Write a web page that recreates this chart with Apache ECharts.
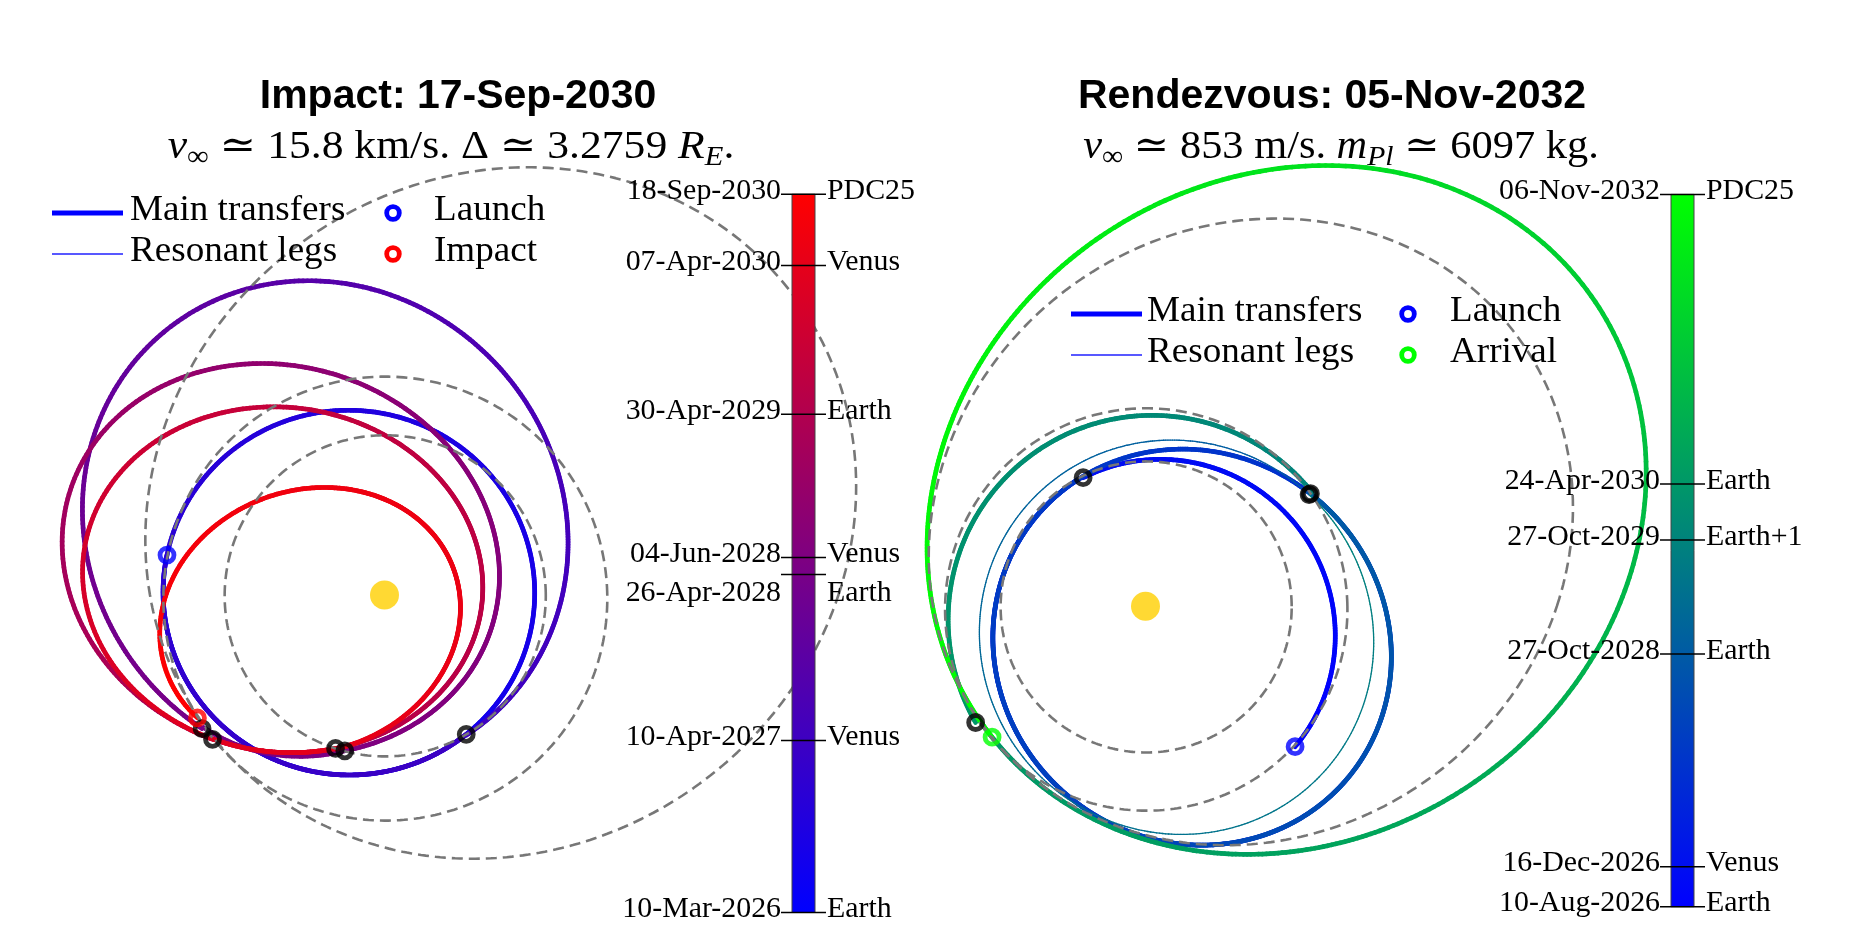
<!DOCTYPE html>
<html>
<head>
<meta charset="utf-8">
<script src="https://cdn.jsdelivr.net/npm/echarts@6/dist/echarts.min.js"></script>
<style>
html,body{margin:0;padding:0;background:#ffffff;}
#chart{width:1867px;height:931px;}
</style>
</head>
<body>
<div id="chart"></div>
<script>
// ================= DATA =================
// Colour-bar events (date label, body) for each mission
const impactDates  = ['10-Mar-2026','10-Apr-2027','26-Apr-2028','04-Jun-2028','30-Apr-2029','07-Apr-2030','18-Sep-2030'];
const impactBodies = ['Earth','Venus','Earth','Venus','Earth','Venus','PDC25'];
const rdvDates  = ['10-Aug-2026','16-Dec-2026','27-Oct-2028','27-Oct-2029','24-Apr-2030','06-Nov-2032'];
const rdvBodies = ['Earth','Venus','Earth','Earth+1','Earth','PDC25'];

// Transfer legs between consecutive events: heliocentric conics
// a = semi-major axis [AU], e = eccentricity, w = longitude of perihelion [deg],
// th0/th1 = heliocentric longitude at leg start / end [deg, unwrapped for multi-revolution legs]
const impactLegA   = [0.837, 1.137, 0.742, 0.998, 0.904, 0.687];
const impactLegE   = [0.192, 0.360, 0.474, 0.495, 0.513, 0.516];
const impactLegW   = [-3.8, -49.3, 11.4, -19.0, -8.5, 19.0];
const impactLegTh0 = [169.6, 300.4, 216.2, 255.7, 220.0, 252.3];
const impactLegTh1 = [660.4, 576.2, 255.7, 580.0, 612.3, 573.3];
const impactLegResonant = [false, false, false, false, false, false];

const rdvLegA   = [0.868, 1.011, 0.992, 1.019, 1.850];
const rdvLegE   = [0.183, 0.305, 0.220, 0.077, 0.459];
const rdvLegW   = [122.6, 138.7, 135.0, 117.0, 214.3];
const rdvLegTh0 = [316.8, 115.9, 34.3, 34.3, 214.4];
const rdvLegTh1 = [475.9, 754.3, 394.3, 214.4, 580.5];
const rdvLegResonant = [false, false, true, false, false];

// Background orbits (dashed)
const orbitNames = ['Venus', 'Earth', 'PDC25'];
const orbitA = [0.7233, 1.0000, 1.643];
const orbitE = [0.0068, 0.0167, 0.390];
const orbitW = [131.5, 102.9, 215.2];

// Colour maps (start -> end of mission)
const impactCmap = ['#0000ff', '#ff0000'];
const rdvCmap    = ['#0000ff', '#00ff00'];

// Text
const impactTitle = 'Impact: 17-Sep-2030';
const rdvTitle    = 'Rendezvous: 05-Nov-2032';
const impactSubtitle = '{i|v}{s|\u221e}{n| \u2243 15.8 km/s. \u0394 \u2243 3.2759 }{i|R}{si|E}{n|.}';
const rdvSubtitle    = '{i|v}{s|\u221e}{n| \u2243 853 m/s. }{i|m}{si|Pl}{n| \u2243 6097 kg.}';
const impactLegendLabels = ['Main transfers', 'Resonant legs', 'Launch', 'Impact'];
const rdvLegendLabels    = ['Main transfers', 'Resonant legs', 'Launch', 'Arrival'];

// ================= HELPERS =================
const DEG = Math.PI / 180;
const MONTHS = ['Jan','Feb','Mar','Apr','May','Jun','Jul','Aug','Sep','Oct','Nov','Dec'];
function parseDate(s) {
  const p = s.split('-');
  return Date.UTC(+p[2], MONTHS.indexOf(p[1]), +p[0]) / 86400000;
}
function conicXY(a, e, w, th) {
  const p = a * (1 - e * e);
  const r = p / (1 + e * Math.cos((th - w) * DEG));
  return [r * Math.cos(th * DEG), r * Math.sin(th * DEG)];
}
function sampleConic(a, e, w, th0, th1, step) {
  const n = Math.max(2, Math.ceil(Math.abs(th1 - th0) / step));
  const pts = [];
  for (let i = 0; i <= n; i++) pts.push(conicXY(a, e, w, th0 + (th1 - th0) * i / n));
  return pts;
}
// unwrapped mean anomaly (for time along a leg)
function meanAnom(th, e, w) {
  const nu = (th - w) * DEG;
  const k = Math.floor((nu + Math.PI) / (2 * Math.PI));
  const nr = nu - 2 * Math.PI * k;
  const E = 2 * Math.atan(Math.sqrt((1 - e) / (1 + e)) * Math.tan(nr / 2));
  return E - e * Math.sin(E) + 2 * Math.PI * k;
}
function hex2rgb(h) { return [parseInt(h.slice(1,3),16), parseInt(h.slice(3,5),16), parseInt(h.slice(5,7),16)]; }
function cmapColor(cmap, f) {
  f = Math.max(0, Math.min(1, f));
  const a = hex2rgb(cmap[0]), b = hex2rgb(cmap[1]);
  return 'rgb(' + a.map((v, i) => Math.round(v + (b[i] - v) * f)).join(',') + ')';
}

const SERIF = '"Liberation Serif", "DejaVu Serif", serif';
const SANS = '"Liberation Sans", Arial, sans-serif';
const LABEL_NUDGE = { '26-Apr-2028': 22 };
const CB_FONT = '29px ' + SERIF;

function panelSeries(P, k) {
  const times = P.dates.map(parseDate);
  const tmin = times[0], tmax = times[times.length - 1];
  const nLeg = P.legA.length;
  const series = [];

  // transfer legs, coloured by time
  series.push({
    type: 'custom', coordinateSystem: 'cartesian2d', xAxisIndex: k, yAxisIndex: k,
    z: 2, silent: true, clip: false,
    data: P.legA.map((_, i) => [0, 0, i]), encode: { x: 0, y: 1 },
    renderItem: function (params, api) {
      const i = api.value(2);
      const a = P.legA[i], e = P.legE[i], w = P.legW[i], th0 = P.legTh0[i], th1 = P.legTh1[i];
      const t0 = times[i], t1 = times[i + 1];
      const M0 = meanAnom(th0, e, w), M1 = meanAnom(th1, e, w);
      const pts = sampleConic(a, e, w, th0, th1, 0.75);
      const px = pts.map(q => api.coord(q));
      const n = px.length - 1;
      const children = [];
      for (let j = 0; j < n; j++) {
        const thm = th0 + (th1 - th0) * (j + 0.5) / n;
        const frac = (meanAnom(thm, e, w) - M0) / (M1 - M0);
        const t = t0 + frac * (t1 - t0);
        children.push({
          type: 'polyline', silent: true,
          shape: { points: [px[j], px[j + 1]] },
          style: { stroke: cmapColor(P.cmap, (t - tmin) / (tmax - tmin)),
                   lineWidth: P.legRes[i] ? 1.3 : 4.7, lineCap: 'round', fill: null }
        });
      }
      return { type: 'group', children: children };
    }
  });

  // dashed orbits
  orbitA.forEach((a, j) => {
    series.push({
      type: 'line', name: orbitNames[j], xAxisIndex: k, yAxisIndex: k, z: 3, silent: true,
      showSymbol: false, symbol: 'none', smooth: false,
      data: sampleConic(a, orbitE[j], orbitW[j], 0, 360, 1),
      lineStyle: { color: '#777777', width: 2.6, type: [11, 6] }
    });
  });

  // event markers
  const markers = [];
  markers.push({ value: conicXY(P.legA[0], P.legE[0], P.legW[0], P.legTh0[0]), itemStyle: { borderColor: '#0000ff' } });
  for (let i = 0; i < nLeg - 1; i++) {
    markers.push({ value: conicXY(P.legA[i], P.legE[i], P.legW[i], P.legTh1[i]), itemStyle: { borderColor: '#000000' } });
  }
  markers.push({ value: conicXY(P.legA[nLeg-1], P.legE[nLeg-1], P.legW[nLeg-1], P.legTh1[nLeg-1]), itemStyle: { borderColor: P.endColor } });
  series.push({
    type: 'scatter', xAxisIndex: k, yAxisIndex: k, z: 4, silent: true,
    symbol: 'circle', symbolSize: 14,
    itemStyle: { color: 'rgba(0,0,0,0)', borderWidth: 4.8 },
    data: markers
  });

  // Sun
  series.push({
    type: 'scatter', xAxisIndex: k, yAxisIndex: k, z: 5, silent: true,
    symbol: 'circle', symbolSize: 29, itemStyle: { color: '#ffcf00' }, data: [[0, 0]]
  });

  // colour bar
  series.push({
    type: 'custom', coordinateSystem: 'cartesian2d', xAxisIndex: k + 2, yAxisIndex: k + 2,
    z: 10, silent: true, clip: false,
    data: [[0, tmin, tmax]], encode: { x: 0, y: 1 },
    renderItem: function (params, api) {
      const p0 = api.coord([0, api.value(2)]);
      const p1 = api.coord([1, api.value(1)]);
      return {
        type: 'rect',
        shape: { x: p0[0], y: p0[1], width: p1[0] - p0[0], height: p1[1] - p0[1] },
        style: {
          fill: new echarts.graphic.LinearGradient(0, 1, 0, 0, [
            { offset: 0, color: P.cmap[0] }, { offset: 1, color: P.cmap[1] }]),
          stroke: '#444', lineWidth: 1
        }
      };
    }
  });
  // colour bar ticks & labels
  series.push({
    type: 'custom', coordinateSystem: 'cartesian2d', xAxisIndex: k + 2, yAxisIndex: k + 2,
    z: 11, silent: true, clip: false,
    data: times.map((t, i) => [0.5, t, i]), encode: { x: 0, y: 1 },
    renderItem: function (params, api) {
      const t = api.value(1), i = api.value(2);
      const pl = api.coord([0, t]), pr = api.coord([1, t]);
      const y = pl[1];
      const ly = y - 3 + (LABEL_NUDGE[P.dates[i]] || 0);
      return {
        type: 'group',
        children: [
          { type: 'line', shape: { x1: pl[0] - 11, y1: y, x2: pr[0] + 11, y2: y },
            style: { stroke: '#000', lineWidth: 1.5 } },
          { type: 'text', x: pl[0] - 11, y: ly, scaleX: 1.03,
            style: { text: P.dates[i], fill: '#000', font: CB_FONT, align: 'right', verticalAlign: 'middle' } },
          { type: 'text', x: pr[0] + 12, y: ly, scaleX: 1.03,
            style: { text: P.bodies[i], fill: '#000', font: CB_FONT, align: 'left', verticalAlign: 'middle' } }
        ]
      };
    }
  });
  return series;
}

const impactPanel = { dates: impactDates, bodies: impactBodies, legA: impactLegA, legE: impactLegE, legW: impactLegW,
  legTh0: impactLegTh0, legTh1: impactLegTh1, legRes: impactLegResonant, cmap: impactCmap, endColor: '#ff0000' };
const rdvPanel = { dates: rdvDates, bodies: rdvBodies, legA: rdvLegA, legE: rdvLegE, legW: rdvLegW,
  legTh0: rdvLegTh0, legTh1: rdvLegTh1, legRes: rdvLegResonant, cmap: rdvCmap, endColor: '#00ff00' };

// ---- text / legend graphics ----
const subRich = {
  i:  { fontFamily: SERIF, fontSize: 40, fontStyle: 'italic', lineHeight: 50, fill: '#000' },
  n:  { fontFamily: SERIF, fontSize: 40, lineHeight: 50, fill: '#000' },
  s:  { fontFamily: SERIF, fontSize: 28, lineHeight: 24, verticalAlign: 'bottom', fill: '#000' },
  si: { fontFamily: SERIF, fontSize: 28, fontStyle: 'italic', lineHeight: 24, verticalAlign: 'bottom', fill: '#000' }
};
const LEG_FONT = '35px ' + SERIF;
function legendGraphics(labels, endColor, o) {
  const g = [];
  const y1 = o.y, y2 = o.y + 41;
  g.push({ type: 'line', shape: { x1: o.lx, y1: y1, x2: o.lx + 71, y2: y1 }, style: { stroke: '#0000ff', lineWidth: 5 } });
  g.push({ type: 'line', shape: { x1: o.lx, y1: y2, x2: o.lx + 71, y2: y2 }, style: { stroke: '#2020ff', lineWidth: 1.4 } });
  g.push({ type: 'text', x: o.tx, y: y1 - 2, scaleX: 1.06, style: { text: labels[0], font: LEG_FONT, fill: '#000', align: 'left', verticalAlign: 'middle' } });
  g.push({ type: 'text', x: o.tx, y: y2 - 2, scaleX: 1.06, style: { text: labels[1], font: LEG_FONT, fill: '#000', align: 'left', verticalAlign: 'middle' } });
  g.push({ type: 'circle', shape: { cx: o.cx, cy: y1, r: 6.3 }, style: { fill: 'none', stroke: '#0000ff', lineWidth: 4.8 } });
  g.push({ type: 'circle', shape: { cx: o.cx, cy: y2, r: 6.3 }, style: { fill: 'none', stroke: endColor, lineWidth: 4.8 } });
  g.push({ type: 'text', x: o.mx, y: y1 - 2, scaleX: 1.06, style: { text: labels[2], font: LEG_FONT, fill: '#000', align: 'left', verticalAlign: 'middle' } });
  g.push({ type: 'text', x: o.mx, y: y2 - 2, scaleX: 1.06, style: { text: labels[3], font: LEG_FONT, fill: '#000', align: 'left', verticalAlign: 'middle' } });
  return g;
}

const graphics = [
  { type: 'text', x: 458, y: 97, style: { text: impactTitle, font: 'bold 41px ' + SANS, fill: '#000', align: 'center', verticalAlign: 'middle' } },
  { type: 'text', x: 1332, y: 97, style: { text: rdvTitle, font: 'bold 41px ' + SANS, fill: '#000', align: 'center', verticalAlign: 'middle' } },
  { type: 'text', x: 451, y: 147, scaleX: 1.09, style: { text: impactSubtitle, rich: subRich, align: 'center', verticalAlign: 'middle' } },
  { type: 'text', x: 1341, y: 147, scaleX: 1.06, style: { text: rdvSubtitle, rich: subRich, align: 'center', verticalAlign: 'middle' } }
].concat(
  legendGraphics(impactLegendLabels, '#ff0000', { y: 213, lx: 52, tx: 130, cx: 393, mx: 434 }),
  legendGraphics(rdvLegendLabels, '#00ff00', { y: 314, lx: 1071, tx: 1147, cx: 1408, mx: 1450 })
).map(g => Object.assign({ silent: true, z: 100 }, g));

const tL = impactDates.map(parseDate), tR = rdvDates.map(parseDate);

const option = {
  animation: false,
  backgroundColor: '#ffffff',
  grid: [
    { left: 29.3, top: 128.8, width: 888, height: 799.2, outerBoundsMode: 'none' },
    { left: 843.7, top: 123.32, width: 865.16, height: 784.68, outerBoundsMode: 'none' },
    { left: 792, top: 194.3, width: 23, height: 718.2, outerBoundsMode: 'none' },
    { left: 1671, top: 194.4, width: 23, height: 712.3, outerBoundsMode: 'none' }
  ],
  xAxis: [
    { type: 'value', gridIndex: 0, min: -1.6, max: 2.4, show: false },
    { type: 'value', gridIndex: 1, min: -1.5, max: 2.8, show: false },
    { type: 'value', gridIndex: 2, min: 0, max: 1, show: false },
    { type: 'value', gridIndex: 3, min: 0, max: 1, show: false }
  ],
  yAxis: [
    { type: 'value', gridIndex: 0, min: -1.5, max: 2.1, show: false },
    { type: 'value', gridIndex: 1, min: -1.5, max: 2.4, show: false },
    { type: 'value', gridIndex: 2, min: tL[0], max: tL[tL.length - 1], show: false },
    { type: 'value', gridIndex: 3, min: tR[0], max: tR[tR.length - 1], show: false }
  ],
  graphic: graphics,
  series: panelSeries(impactPanel, 0).concat(panelSeries(rdvPanel, 1))
};

const chart = echarts.init(document.getElementById('chart'), null, { renderer: 'canvas' });
chart.setOption(option);
</script>
</body>
</html>
